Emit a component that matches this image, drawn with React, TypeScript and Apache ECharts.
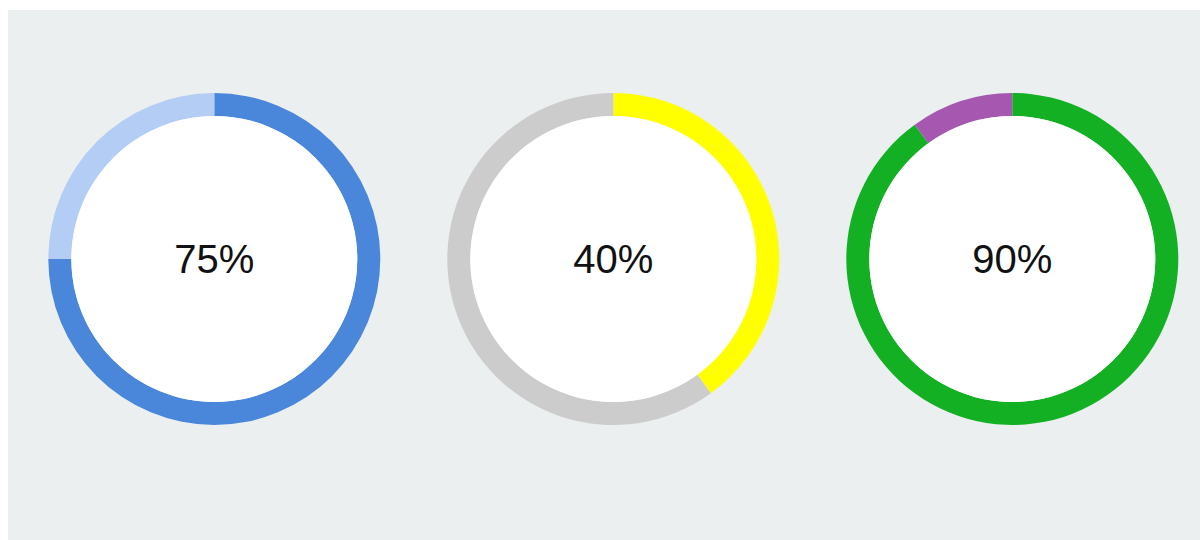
import React, { useEffect, useRef } from "react";
import * as echarts from "echarts";

const gaugeNames = ["A", "B", "C"];
const gaugeValues = [75, 40, 90];
const gaugeLabels = ["75%", "40%", "90%"];
const mainColors = ["#4a86da", "#ffff00", "#13b023"];
const restColors = ["#b3cdf5", "#cccccc", "#a657b0"];
const centersX = [206.3, 605.3, 1004.3];

export default function App() {
  const ref = useRef<HTMLDivElement>(null);
  useEffect(() => {
    if (!ref.current) return;
    const chart = echarts.init(ref.current, undefined, { renderer: "svg" });
    const series: any[] = [];
    gaugeValues.forEach((v, i) => {
      const center = [centersX[i], 249];
      series.push({
        type: "pie",
        name: gaugeNames[i] + "-ring",
        center,
        radius: [143, 166],
        startAngle: 90,
        clockwise: true,
        silent: true,
        label: { show: false },
        labelLine: { show: false },
        emphasis: { disabled: true },
        itemStyle: { borderWidth: 0 },
        data: [
          { value: v, name: "done", itemStyle: { color: mainColors[i] } },
          { value: 100 - v, name: "rest", itemStyle: { color: restColors[i] } },
        ],
      });
      series.push({
        type: "pie",
        name: gaugeNames[i] + "-center",
        center,
        radius: [0, 143],
        silent: true,
        emphasis: { disabled: true },
        labelLine: { show: false },
        label: {
          show: true,
          position: "center",
          formatter: gaugeLabels[i],
          fontFamily: "Liberation Sans, Arial, sans-serif",
          fontSize: 40,
          color: "#111111",
          padding: [3, 0, 0, 0],
        },
        data: [{ value: 1, name: gaugeLabels[i], itemStyle: { color: "#ffffff" } }],
      });
    });
    chart.setOption({
      animation: false,
      backgroundColor: "#ebeff0",
      series,
    });
    return () => chart.dispose();
  }, []);
  return (
    <div
      ref={ref}
      style={{ position: "absolute", left: 8, top: 10, width: 1192, height: 530 }}
    />
  );
}
